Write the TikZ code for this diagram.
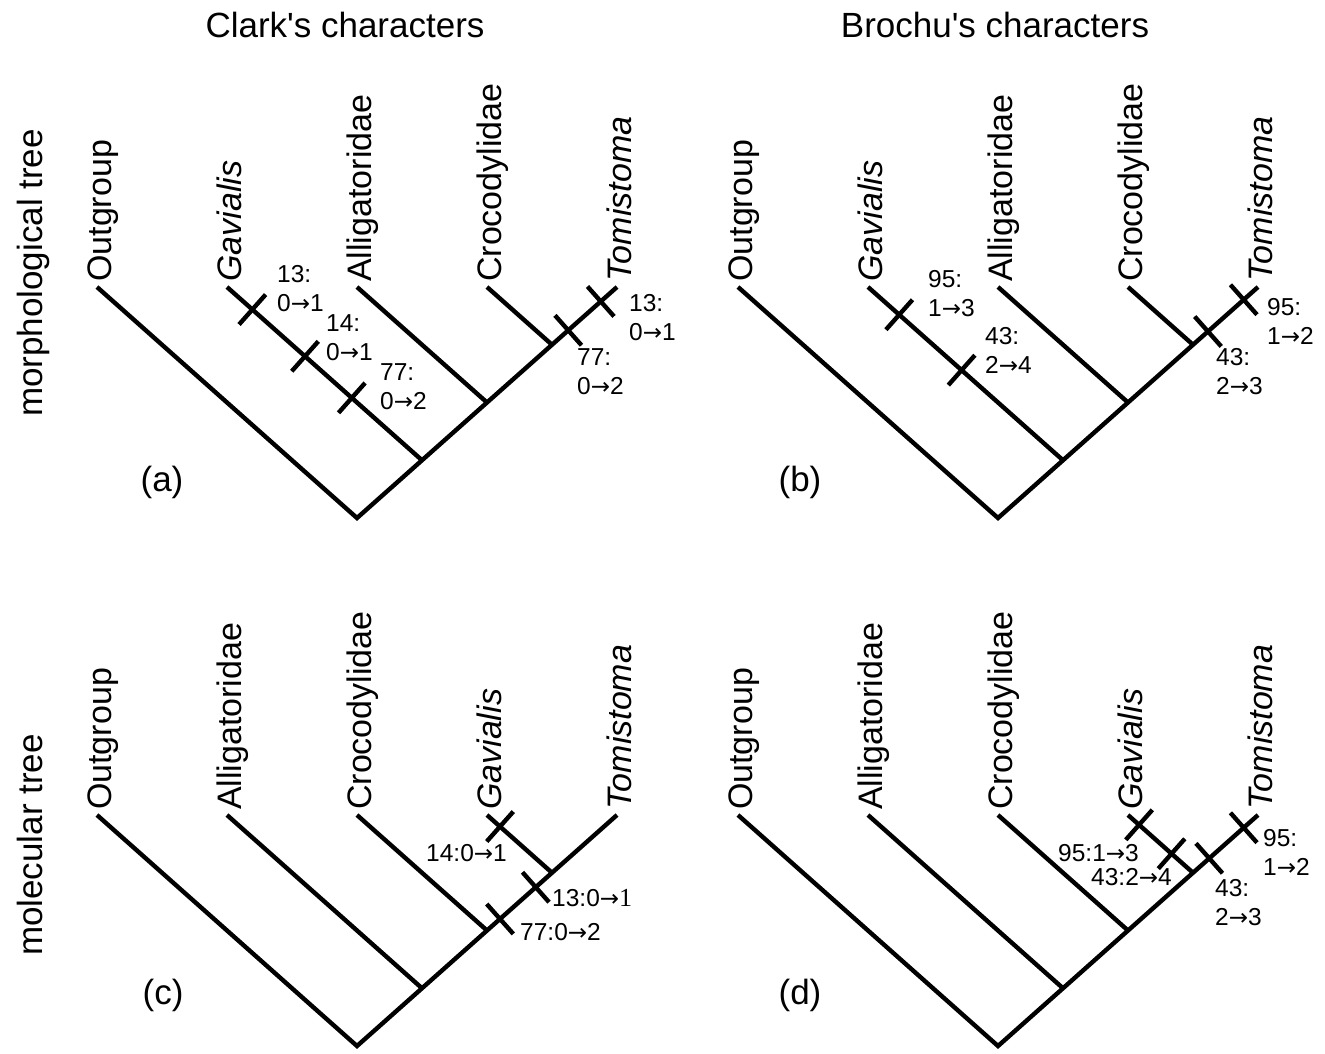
\documentclass[tikz,border=0pt]{standalone}
\usepackage{fontspec}
\newfontfamily\lsans{Liberation Sans}
\newfontfamily\lserif{Liberation Serif}
\newfontfamily\djv{DejaVu Sans}
\usetikzlibrary{calc}
\newcommand\rarr{{\djv\fontsize{23}{29}\selectfont →}}
\newcommand\cladetree[8]{%
  \begin{scope}[shift={(#2,#3)}]
    \coordinate (#1r) at (357,518);
    \coordinate (#1t1) at (97,287);
    \coordinate (#1t2) at (227,287);
    \coordinate (#1t3) at (357,287);
    \coordinate (#1t4) at (487,287);
    \coordinate (#1t5) at (617,287);
  \end{scope}
  \coordinate (#1n1) at ($(#1r)!0.25!(#1t5)$);
  \coordinate (#1n2) at ($(#1r)!0.5!(#1t5)$);
  \coordinate (#1n3) at ($(#1r)!0.75!(#1t5)$);
  \draw[br] (#1t1) -- (#1r) -- (#1t5);
  \draw[br] (#1t2) -- (#1n1);
  \draw[br] (#1t3) -- (#1n2);
  \draw[br] (#1t4) -- (#1n3);
  \node[tiplab] (#1L1) at ($(#1t1)+(14,-5)$) {#4};
  \node[tiplab] (#1L2) at ($(#1t2)+(14,-5)$) {#5};
  \node[tiplab] (#1L3) at ($(#1t3)+(14,-5)$) {#6};
  \node[tiplab] (#1L4) at ($(#1t4)+(14,-5)$) {#7};
  \node[tiplab] (#1L5) at ($(#1t5)+(14,-5)$) {#8};
}
\newcommand\brtick[4]{%
  \coordinate (#1) at ($(#2)!#4!(#3)$);
  \draw[br] ($(#1)!20pt!90:(#3)$) -- ($(#1)!20pt!-90:(#3)$);
}
\begin{document}
\begin{tikzpicture}[x=1pt,y=-1pt,
  br/.style={line width=4.4pt, line join=miter},
  tiplab/.style={rotate=90, anchor=base west, inner sep=0pt, font=\lsans\fontsize{34}{40}\selectfont},
  sidelab/.style={rotate=90, anchor=base, inner sep=0pt, font=\lsans\fontsize{35}{40}\selectfont},
  titlelab/.style={anchor=base, inner sep=0pt, font=\lsans\fontsize{35}{40}\selectfont},
  panlab/.style={anchor=base, inner sep=0pt, font=\lsans\fontsize{35}{40}\selectfont},
  clab/.style={inner sep=0pt, align=left, font=\lsans\fontsize{24.5}{29}\selectfont},
]
\useasboundingbox[fill=white] (0,0) rectangle (1325,1053);

% titles and side labels
\node[titlelab] (title1) at (345,37) {Clark's characters};
\node[titlelab] (title2) at (995,37) {Brochu's characters};
\node[sidelab] (side1) at (42,273) {morphological tree};
\node[sidelab] (side2) at (42,845) {molecular tree};

% (a)
\cladetree{a}{0}{0}{Outgroup}{\textit{Gavialis}}{Alligatoridae}{Crocodylidae}{\textit{Tomistoma}}
\brtick{ak1}{at2}{an1}{0.13}
\brtick{ak2}{at2}{an1}{0.40}
\brtick{ak3}{at2}{an1}{0.64}
\brtick{ak4}{an3}{at5}{0.25}
\brtick{ak5}{an3}{at5}{0.75}
\node[clab, anchor=west] (al1) at (277,289) {13:\\0\rarr1};
\node[clab, anchor=west] (al2) at (326,338) {14:\\0\rarr1};
\node[clab, anchor=west] (al3) at (380,387) {77:\\0\rarr2};
\node[clab, anchor=west] (al4) at (629,318) {13:\\0\rarr1};
\node[clab, anchor=west] (al5) at (577,371.5) {77:\\0\rarr2};
\node[panlab] (pa) at (162,491) {(a)};

% (b)
\cladetree{b}{641}{0}{Outgroup}{\textit{Gavialis}}{Alligatoridae}{Crocodylidae}{\textit{Tomistoma}}
\brtick{bk1}{bt2}{bn1}{0.16}
\brtick{bk2}{bt2}{bn1}{0.48}
\brtick{bk3}{bn3}{bt5}{0.23}
\brtick{bk4}{bn3}{bt5}{0.78}
\node[clab, anchor=west] (bl1) at (928,293.5) {95:\\1\rarr3};
\node[clab, anchor=west] (bl2) at (985,350) {43:\\2\rarr4};
\node[clab, anchor=west] (bl3) at (1216,371.5) {43:\\2\rarr3};
\node[clab, anchor=west] (bl4) at (1267,321.5) {95:\\1\rarr2};
\node[panlab] (pb) at (800,491) {(b)};

% (c)
\cladetree{c}{0}{528}{Outgroup}{Alligatoridae}{Crocodylidae}{\textit{Gavialis}}{\textit{Tomistoma}}
\brtick{ck1}{ct4}{cn3}{0.2}
\brtick{ck2}{cn2}{cn3}{0.75}
\brtick{ck3}{cn2}{cn3}{0.2}
\node[clab, anchor=east] (cl1) at (507,853) {14:0\rarr1};
\node[clab, anchor=west] (cl2) at (552,898) {13:0\rarr{\lserif\fontsize{26}{29}\selectfont 1}};
\node[clab, anchor=west] (cl3) at (520,932) {77:0\rarr2};
\node[panlab] (pc) at (163,1004) {(c)};

% (d)
\cladetree{d}{641}{528}{Outgroup}{Alligatoridae}{Crocodylidae}{\textit{Gavialis}}{\textit{Tomistoma}}
\brtick{dk1}{dt4}{dn3}{0.17}
\brtick{dk2}{dt4}{dn3}{0.67}
\brtick{dk3}{dn3}{dt5}{0.25}
\brtick{dk4}{dn3}{dt5}{0.78}
\node[clab, anchor=east] (dl1) at (1139,853) {95:1\rarr3};
\node[clab, anchor=east] (dl2) at (1172,877) {43:2\rarr4};
\node[clab, anchor=west] (dl3) at (1215,902.5) {43:\\2\rarr3};
\node[clab, anchor=west] (dl4) at (1263,852.5) {95:\\1\rarr2};
\node[panlab] (pd) at (800,1004) {(d)};
\end{tikzpicture}
\end{document}
